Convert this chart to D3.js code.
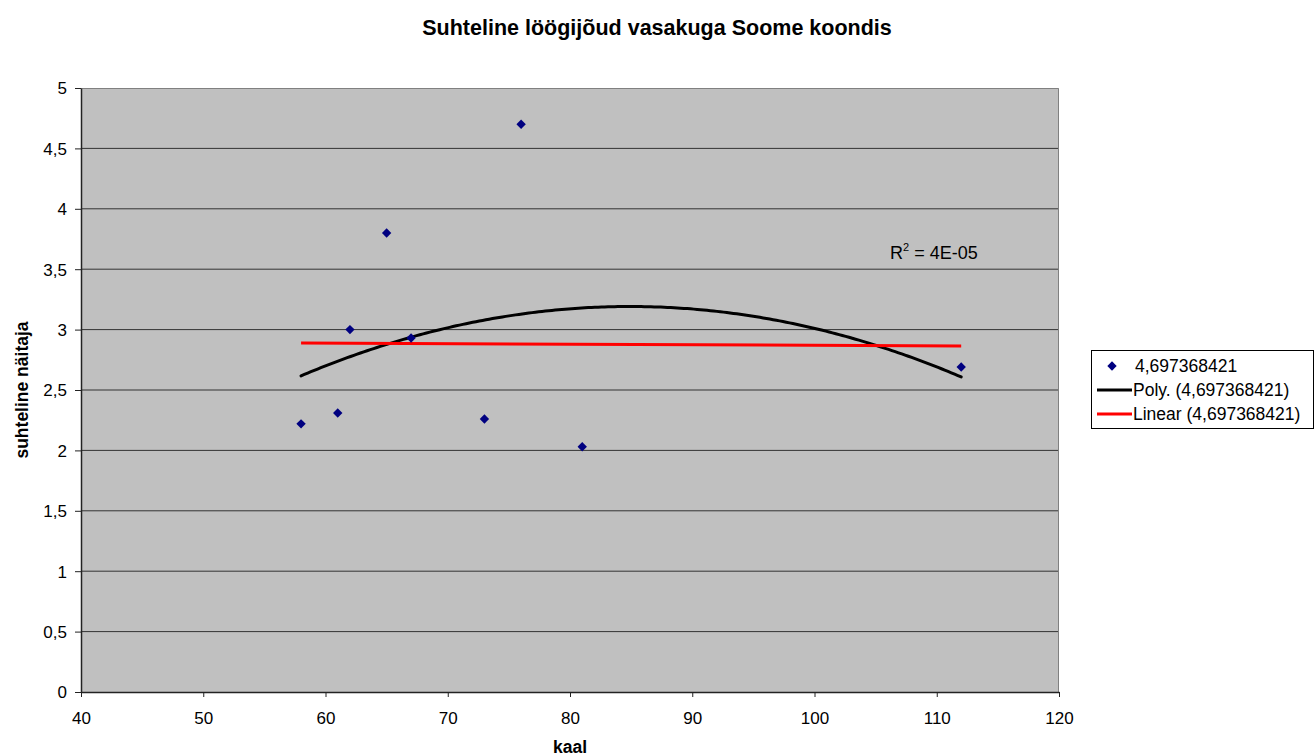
<!DOCTYPE html>
<html>
<head>
<meta charset="utf-8">
<script src="https://cdn.jsdelivr.net/npm/d3@7"></script>
<style>
  body { margin: 0; background: #fff; }
  svg { display: block; font-family: "Liberation Sans", Arial, sans-serif; }
</style>
</head>
<body>
<svg id="chart" width="1315" height="756"></svg>
<script>
// Body weight (kaal) and relative kick strength (suhteline näitaja)
const weights = [58, 61, 62, 65, 67, 73, 76, 81, 112];
const strength = [2.22, 2.31, 3.0, 3.8, 2.93, 2.26, 4.70, 2.03, 2.69];
const xTicks = [40, 50, 60, 70, 80, 90, 100, 110, 120];
const yTicks = [0, 0.5, 1, 1.5, 2, 2.5, 3, 3.5, 4, 4.5, 5];
const seriesName = "4,697368421";
const legendLabels = [seriesName, "Poly. (" + seriesName + ")", "Linear (" + seriesName + ")"];
const rSquaredLabel = "4E-05";

const svg = d3.select("#chart");
const plot = { left: 81, right: 1059, top: 88, bottom: 692 };

const x = d3.scaleLinear().domain([40, 120]).range([plot.left, plot.right]);
const y = d3.scaleLinear().domain([0, 5]).range([plot.bottom, plot.top]);

const fmt = v => String(v).replace(".", ",");

// Least-squares fits: linear and 2nd-order polynomial
function solve(A, b) {
  const n = b.length;
  const M = A.map((row, i) => row.concat([b[i]]));
  for (let c = 0; c < n; c++) {
    let p = c;
    for (let r = c + 1; r < n; r++) if (Math.abs(M[r][c]) > Math.abs(M[p][c])) p = r;
    [M[c], M[p]] = [M[p], M[c]];
    for (let r = 0; r < n; r++) {
      if (r === c) continue;
      const f = M[r][c] / M[c][c];
      for (let k = c; k <= n; k++) M[r][k] -= f * M[c][k];
    }
  }
  return M.map((row, i) => row[n] / row[i]);
}
function polyFit(xs, ys, deg) {
  const m = deg + 1;
  const A = [], b = [];
  for (let i = 0; i < m; i++) {
    A.push([]);
    for (let j = 0; j < m; j++) A[i].push(d3.sum(xs, v => Math.pow(v, i + j)));
    b.push(d3.sum(xs, (v, k) => ys[k] * Math.pow(v, i)));
  }
  return solve(A, b);
}
const evalPoly = (c, v) => c.reduce((s, ci, i) => s + ci * Math.pow(v, i), 0);
const linCoef = polyFit(weights, strength, 1);
const quadCoef = polyFit(weights, strength, 2);
const xMin = d3.min(weights), xMax = d3.max(weights);

// Plot background
svg.append("rect")
  .attr("x", plot.left).attr("y", plot.top)
  .attr("width", plot.right - plot.left).attr("height", plot.bottom - plot.top)
  .attr("fill", "#c0c0c0");

// Horizontal gridlines
svg.append("g").selectAll("line")
  .data(yTicks.filter(t => t > 0 && t < 5))
  .join("line")
  .attr("x1", plot.left).attr("x2", plot.right)
  .attr("y1", d => y(d)).attr("y2", d => y(d))
  .attr("stroke", "#333").attr("stroke-width", 1);

// Plot frame (top and right edges)
svg.append("path")
  .attr("d", `M${plot.left},${plot.top + 0.5}H${plot.right - 0.5}V${plot.bottom}`)
  .attr("fill", "none").attr("stroke", "#808080").attr("stroke-width", 1);

// Axes
const xAxis = d3.axisBottom(x).tickValues(xTicks).tickSize(5).tickSizeOuter(0).tickFormat(fmt);
const yAxis = d3.axisLeft(y).tickValues(yTicks).tickSize(6).tickSizeOuter(0).tickFormat(fmt);

const gx = svg.append("g").attr("transform", `translate(0,${plot.bottom})`).call(xAxis);
const gy = svg.append("g").attr("transform", `translate(${plot.left},0)`).call(yAxis);
[gx, gy].forEach(g => {
  g.select(".domain").attr("stroke", "#222").attr("stroke-width", 1.5);
  g.selectAll(".tick line").attr("stroke", "#222");
  g.selectAll("text").attr("fill", "#000").attr("font-size", 17)
    .attr("font-family", "'Liberation Sans', Arial, sans-serif");
});
gx.selectAll("text").attr("y", 20).attr("dy", "0.71em");
gy.selectAll("text").attr("x", -14).attr("dy", "0.35em");

// Trendlines
const samples = d3.range(0, 201).map(i => xMin + (xMax - xMin) * i / 200);
const line = d3.line().x(d => x(d[0])).y(d => y(d[1]));

svg.append("path")
  .datum(samples.map(v => [v, evalPoly(quadCoef, v)]))
  .attr("d", line).attr("fill", "none")
  .attr("stroke", "#000").attr("stroke-width", 3).attr("stroke-linecap", "round");

svg.append("path")
  .datum([xMin, xMax].map(v => [v, evalPoly(linCoef, v)]))
  .attr("d", line).attr("fill", "none")
  .attr("stroke", "#ff0000").attr("stroke-width", 3);

// Data points (diamonds)
const diamond = d3.symbol().type(d3.symbolDiamond2).size(56);
svg.append("g").selectAll("path")
  .data(weights.map((w, i) => [w, strength[i]]))
  .join("path")
  .attr("d", diamond)
  .attr("transform", d => `translate(${x(d[0])},${y(d[1])})`)
  .attr("fill", "#000080");

// R² annotation
const rText = svg.append("text")
  .attr("x", 890).attr("y", 259)
  .attr("font-size", 18).attr("fill", "#000");
rText.append("tspan").text("R");
rText.append("tspan").attr("dy", -8).attr("font-size", 11).text("2");
rText.append("tspan").attr("dy", 8).text(" = " + rSquaredLabel);

// Title and axis titles
svg.append("text")
  .attr("x", 657).attr("y", 35).attr("text-anchor", "middle")
  .attr("font-size", 21.5).attr("font-weight", "bold").text("Suhteline löögijõud vasakuga Soome koondis");

svg.append("text")
  .attr("x", 570).attr("y", 753).attr("text-anchor", "middle")
  .attr("font-size", 17.5).attr("font-weight", "bold").text("kaal");

svg.append("text")
  .attr("transform", "translate(28,390) rotate(-90)")
  .attr("text-anchor", "middle")
  .attr("font-size", 17.5).attr("font-weight", "bold").text("suhteline näitaja");

// Legend
const lg = svg.append("g").attr("transform", "translate(1091,350)");
lg.append("rect").attr("x", 0.5).attr("y", 0.5).attr("width", 222).attr("height", 78)
  .attr("fill", "#fff").attr("stroke", "#000").attr("stroke-width", 1);
const rowY = [16, 40, 64];
lg.append("path").attr("d", diamond)
  .attr("transform", `translate(21,${rowY[0]})`).attr("fill", "#000080");
lg.append("line").attr("x1", 6).attr("x2", 41).attr("y1", rowY[1]).attr("y2", rowY[1])
  .attr("stroke", "#000").attr("stroke-width", 3);
lg.append("line").attr("x1", 6).attr("x2", 41).attr("y1", rowY[2]).attr("y2", rowY[2])
  .attr("stroke", "#ff0000").attr("stroke-width", 3);
lg.selectAll("text.lbl").data(legendLabels).join("text")
  .attr("class", "lbl")
  .attr("x", (d, i) => i === 0 ? 44 : 42).attr("y", (d, i) => rowY[i]).attr("dy", "0.35em")
  .attr("font-size", 17.5).attr("fill", "#000").text(d => d);
</script>
</body>
</html>
